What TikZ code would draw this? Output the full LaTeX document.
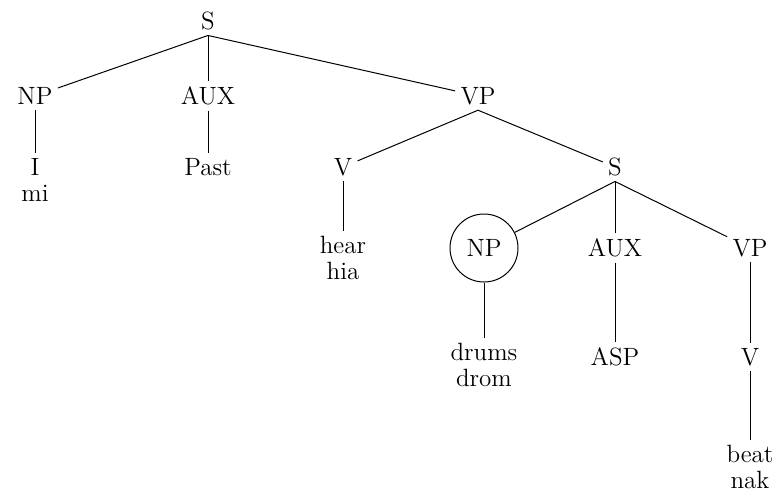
\documentclass[tikz,border=0pt]{standalone}
\usepackage{tikz}
\usetikzlibrary{positioning}

\begin{document}
\begin{tikzpicture}[x=0.5pt,y=-0.5pt,font=\fontsize{12.5}{12.8}\selectfont]
		\tikzstyle{cat}=[inner sep=2.5pt]
		\tikzstyle{word}=[inner sep=2.5pt, align=center, anchor=north]
		\tikzstyle{ring}=[circle, draw=black, line width=0.5pt, minimum size=34pt, inner sep=0pt]
		\tikzstyle{connect}=[-, line width=0.5pt]
		\useasboundingbox (0,0) rectangle (780,493);
		\node[cat] (S) at (208,21) {S};
		
		\node[cat] (NPa) at (35,96) {NP};
		\node[cat] (AUXa) at (208,96) {AUX};
		\node[cat] (VPa) at (478,96) {VP};
		
		\node[word] (I) at (35,153) {I\\mi};
		\node[word] (past) at (208,153) {Past};
		
		\node[cat] (Va) at (343,167) {V};
		\node[cat] (Sb) at (615,167) {S};
		
		\node[word] (hear) at (343,231) {hear\\hia};
		
		\node[ring] (NPb) at (484,248) {NP};
		\node[cat] (AUXb) at (615,248) {AUX};
		\node[cat] (VPb) at (750,248) {VP};
		
		\node[word] (drums) at (484,338) {drums\\drom};
		\node[cat] (ASP) at (615,357) {ASP};
		\node[cat] (Vb) at (750,357) {V};
		
		\node[word] (beat) at (750,440) {beat\\nak};
		
		\path (S.south) edge [connect] (NPa);
		\path (S.south) edge [connect] (AUXa);
		\path (S.south) edge [connect] (VPa);
		
		\path (NPa) edge [connect] (I);
		\path (AUXa) edge [connect] (past);
		
		\path (VPa.south) edge [connect] (Va);
		\path (VPa.south) edge [connect] (Sb);
		\path (Va) edge [connect] (hear);
		
		\path (Sb.south) edge [connect] (NPb);
		\path (Sb.south) edge [connect] (AUXb);
		\path (Sb.south) edge [connect] (VPb);
		
		\path (NPb) edge [connect] (drums);
		\path (AUXb) edge [connect] (ASP);
		\path (VPb) edge [connect] (Vb);
		\path (Vb) edge [connect] (beat);
	\end{tikzpicture}
\end{document}
